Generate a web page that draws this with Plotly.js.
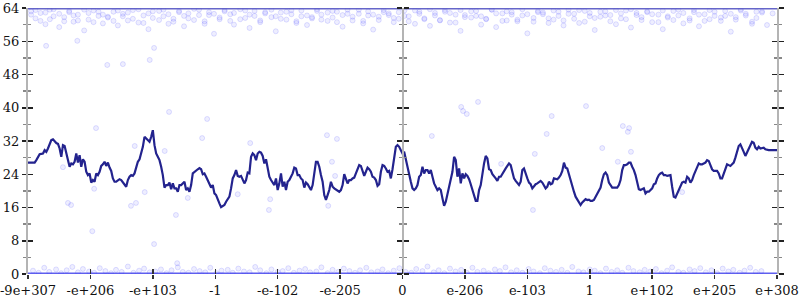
<!DOCTYPE html>
<html>
<head>
<meta charset="utf-8">
<script src="https://cdn.plot.ly/plotly-3.0.1.min.js"></script>
<style>html,body{margin:0;padding:0;background:#fff}#chart{width:800px;height:300px}</style>
</head>
<body>
<div id="chart"></div>
<script>
// ---- tick labels (13 positions, index 0..12) ----
const tickLabels = ["-9e+307","-e+206","-e+103","-1","-e-102","-e-205","0","e-206","e-103","1","e+102","e+205","e+308"];
const tickPos = [0,1,2,3,4,5,6,7,8,9,10,11,12];

// ---- running-average line (evenly sampled along the axis) ----
const meanY = [
 26.8,26.8,26.8,26.8,26.8,27.4,28.2,28.8,28.9,29.0,29.8,29.4,30.2,31.4,32.2,32.4,31.8,31.5,31.3,30.2,28.2,31.0,30.8,29.4,27.4,25.8,26.6,26.4,27.0,29.0,26.8,28.6,25.8,27.6,27.0,24.6,23.8,24.2,22.0,22.6,22.2,24.2,23.8,24.6,26.0,26.4,27.0,26.0,26.8,25.6,24.8,23.0,22.2,22.2,22.4,22.8,22.6,22.0,21.6,21.0,22.6,23.4,23.8,23.6,24.2,25.4,27.0,27.6,29.0,30.6,33.0,32.6,32.2,31.8,33.0,34.6,31.0,29.0,28.2,27.4,25.8,23.8,20.8,21.4,21.4,22.0,20.4,21.8,20.6,20.6,19.8,21.4,
 21.4,21.8,22.2,20.2,20.6,19.8,21.4,24.2,24.6,24.9,25.2,25.5,25.2,24.0,24.2,23.4,22.6,21.4,20.8,21.4,19.4,19.0,18.2,17.0,16.1,16.4,16.6,17.4,18.0,18.6,20.6,23.0,23.8,25.0,23.6,23.4,23.6,22.6,21.8,22.6,24.4,24.2,28.2,29.0,28.6,27.4,29.0,29.4,29.2,28.4,26.6,27.6,25.8,23.4,22.6,21.8,21.4,23.0,20.2,21.8,24.2,21.0,22.2,20.2,22.2,22.6,23.4,24.2,25.6,25.4,23.8,23.8,23.0,22.6,20.8,22.0,21.6,20.8,20.2,21.4,25.0,27.0,27.0,25.8,23.8,22.2,19.0,17.8,19.0,20.2,
 22.2,21.0,20.6,20.4,20.1,19.8,20.2,21.4,24.0,23.0,21.8,22.6,22.6,23.0,23.2,24.2,25.0,26.2,26.0,24.6,23.6,24.6,25.6,25.2,24.6,23.4,23.2,22.6,21.2,21.6,24.6,26.2,26.0,25.4,24.6,24.8,23.0,25.2,28.0,30.6,31.0,30.6,29.8,29.0,29.4,27.4,25.8,24.2,22.2,20.6,20.2,20.6,21.4,23.4,23.8,25.8,24.2,25.0,25.0,24.2,25.0,23.4,21.8,21.0,20.2,20.6,20.2,18.2,16.4,17.4,19.4,21.4,23.4,24.6,28.2,27.4,23.4,25.4,21.8,24.2,23.0,24.0,23.6,22.8,21.6,20.2,18.6,17.6,17.6,20.2,
 21.4,24.2,26.6,28.4,27.8,25.2,25.0,24.0,23.6,23.0,22.4,23.4,23.4,24.2,24.8,25.4,26.0,26.6,26.2,24.6,23.0,22.4,22.0,21.4,22.2,25.0,25.4,24.0,23.0,22.0,21.6,20.6,21.2,21.6,21.8,22.1,22.4,22.0,21.2,20.6,21.0,22.2,21.6,21.8,23.0,22.8,22.8,23.2,23.8,24.8,26.8,25.6,25.4,24.0,22.4,21.2,19.8,18.6,18.0,17.2,16.6,17.2,17.6,18.0,17.8,17.9,17.6,17.6,17.8,18.6,19.2,20.0,20.8,22.6,24.0,24.4,23.8,22.0,21.4,20.8,20.8,20.8,20.8,21.4,22.6,25.0,26.2,26.2,26.4,26.8,
 26.8,25.8,25.0,23.8,22.2,20.4,20.2,20.4,20.6,19.4,19.8,19.8,20.2,20.6,21.6,21.8,23.0,23.8,24.2,24.4,23.8,23.8,23.6,23.8,23.8,21.0,18.6,18.4,19.4,20.4,21.0,22.0,22.2,22.0,23.4,23.0,22.0,22.6,23.8,24.8,25.8,26.6,26.4,26.4,26.6,26.8,27.4,27.2,26.2,25.2,24.8,24.8,24.8,24.2,23.0,23.0,24.2,25.6,26.4,26.2,26.0,26.4,26.8,28.0,29.6,30.8,31.2,30.4,29.4,28.4,29.2,30.4,31.2,31.8,31.6,30.4,30.0,30.6,30.2,30.4,30.4,30.0,29.8,29.8,29.8,29.8,29.8,29.8,29.8
];
const meanX = meanY.map((_, i) => 12 * i / (meanY.length - 1));

// ---- individual samples: cluster near the top ----
const topX = [0.05,0.12,0.2,0.28,0.35,0.41,0.5,0.58,0.66,0.73,0.8,0.9,0.97,1.05,1.13,1.2,1.28,1.37,1.44,1.52,1.6,1.68,1.77,1.85,1.93,2.0,2.1,2.17,2.25,2.33,2.42,2.5,2.57,2.66,2.74,2.83,2.9,2.98,3.07,3.15,3.24,3.3,3.4,3.48,3.55,3.63,3.72,3.8,3.9,3.97,4.05,4.14,4.22,4.3,4.38,4.47,4.55,4.63,4.7,4.8,4.88,4.95,5.04,5.12,5.2,5.3,5.37,5.45,5.53,5.62,5.7,5.78,5.86,5.94,6.03,6.1,6.2,6.27,6.35,6.44,6.52,6.6,6.68,6.76,6.85,6.93,7.0,7.1,7.18,7.26,7.34,7.43,7.5,7.6,7.67,7.75,7.84,7.92,8.0,8.1,8.17,8.25,8.34,8.42,8.5,8.58,8.66,8.75,8.83,8.92,9.0,9.08,9.17,9.25,9.33,9.42,9.5,9.58,9.66,9.75,9.83,9.92,10.0,10.1,10.17,10.25,10.34,10.42,10.5,10.6,10.67,10.75,10.84,10.92,11.0,11.1,11.17,11.26,11.34,11.42,11.5,11.6,11.67,11.76,11.84,11.93];
const topY = [63.2,61.5,62.8,60.1,63.6,62.0,59.4,61.8,63.0,60.7,62.4,58.6,61.2,63.4,62.1,60.3,61.9,63.1,59.8,62.6,61.0,63.5,60.5,62.2,58.9,61.6,63.3,62.0,60.2,61.4,63.0,59.6,62.7,61.1,63.6,60.8,62.3,57.8,61.7,63.2,62.5,60.0,61.3,63.4,59.2,62.1,60.6,63.0,61.8,58.4,62.9,61.2,63.5,60.4,62.0,59.9,61.5,63.3,62.4,60.9,61.7,63.1,59.5,62.6,61.0,63.6,60.3,62.2,58.8,61.9,63.0,62.3,60.6,61.4,63.4,62.0,60.2,63.1,61.5,59.7,62.8,61.1,63.5,60.5,62.4,58.5,61.8,63.2,62.1,60.0,61.3,63.6,59.4,62.7,61.0,63.0,60.8,62.2,57.9,61.6,63.3,62.5,60.4,61.2,63.1,59.8,62.6,61.4,63.5,60.7,62.0,58.7,61.9,63.2,62.3,60.1,61.5,63.4,59.3,62.8,61.1,63.0,60.6,62.4,58.9,61.7,63.3,62.2,60.3,61.0,63.5,59.6,62.5,61.3,63.1,60.9,62.1,58.3,61.8,63.4,62.6,60.2,61.6,63.2,59.9,62.7];
const topY2 = [62.4,63.5,60.9,62.9,61.3,63.7,62.6,60.8,63.3,62.2,61.0,63.6,62.8,60.6,63.1,62.4,61.7,60.9,63.4,62.0,62.9,61.4,63.7,60.4,62.7,63.2,61.1,63.6,62.5,60.7,63.3,62.1,61.5,63.8,62.3,60.2,63.0,62.6,61.3,63.5,60.9,62.8,63.7,61.6,62.4,63.3,61.0,62.7,63.6,62.0,61.4,63.1,62.5,60.8,63.4,62.2,61.8,63.7,61.2,62.9,63.3,60.6,62.3,63.6,61.9,62.6,60.9,63.2,62.4,61.1,63.5,62.7,61.6,63.0,62.1,60.8,63.4,62.6,61.3,63.7,62.2,61.0,63.1,62.8,60.5,63.5,62.3,61.7,63.3,62.0,61.4,63.6,62.7,60.9,63.2,62.4,61.2,63.7,62.5,60.7,63.0,62.9,61.5,63.4,62.1,61.0,63.6,62.6,60.4,63.3,62.8,61.6,63.1,62.2,60.8,63.5,62.7,61.3,63.7,62.3,61.8,63.2,62.5,60.6,63.4,62.0,61.1,63.6,62.8,61.5,63.0,62.4,60.9,63.5,62.1,61.7,63.3,62.6,61.2,63.7,62.2,60.7,63.1,62.9];

// ---- individual samples: cluster near zero ----
const botX = [0.08,0.17,0.26,0.34,0.45,0.53,0.62,0.71,0.8,0.88,0.98,1.06,1.15,1.24,1.33,1.41,1.5,1.6,1.69,1.78,1.86,1.95,2.04,2.13,2.22,2.3,2.4,2.48,2.57,2.66,2.75,2.84,2.92,3.02,3.1,3.2,3.28,3.37,3.46,3.55,3.64,3.72,3.82,3.9,4.0,4.08,4.17,4.26,4.35,4.44,4.52,4.62,4.7,4.8,4.88,4.97,5.06,5.15,5.24,5.32,5.42,5.5,5.6,5.68,5.77,5.86,5.95,6.05,6.14,6.22,6.32,6.4,6.5,6.58,6.67,6.76,6.85,6.94,7.03,7.12,7.2,7.3,7.38,7.48,7.56,7.65,7.74,7.83,7.92,8.02,8.1,8.2,8.28,8.37,8.46,8.55,8.64,8.72,8.82,8.9,9.0,9.08,9.17,9.26,9.35,9.44,9.52,9.62,9.7,9.8,9.88,9.97,10.06,10.15,10.24,10.32,10.42,10.5,10.6,10.68,10.77,10.86,10.95,11.04,11.13,11.22,11.3,11.4,11.48,11.57,11.66,11.75,11.84,11.93];
const botY = [0.8,0.3,1.5,0.5,1.1,0.2,0.9,1.7,0.4,1.2,0.6,0.3,1.4,0.7,0.2,1.0,0.5,1.8,0.3,0.8,1.3,0.4,0.6,1.1,0.2,0.9,1.6,0.5,0.3,1.2,0.7,0.4,1.5,0.2,0.8,1.0,0.3,1.3,0.6,0.4,1.7,0.9,0.2,1.1,0.5,0.7,1.4,0.3,0.8,1.2,0.4,0.6,1.6,0.2,1.0,0.5,1.3,0.7,0.3,0.9,1.5,0.4,0.6,1.1,0.2,0.8,1.4,0.5,0.3,1.2,0.7,1.8,0.4,0.9,0.2,1.3,0.6,1.0,0.3,1.5,0.5,0.8,0.2,1.1,0.7,1.6,0.4,0.9,0.3,1.2,0.6,0.2,1.4,0.8,0.5,1.0,0.3,1.7,0.6,0.4,1.1,0.8,0.2,1.3,0.5,0.9,0.3,1.5,0.7,0.4,1.0,0.6,1.2,0.2,0.8,1.6,0.5,0.3,1.1,0.7,1.4,0.4,0.9,0.2,1.3,0.6,1.0,0.3,0.8,1.5,0.5,0.7];

// ---- sparse outliers in between ----
const midX = [0.29,0.79,1.27,1.52,1.95,2.02,2.26,1.09,1.71,2.19,2.79,2.87,3.56,4.79,4.95,4.87,4.92,0.56,0.64,0.69,1.03,1.06,1.65,1.73,1.87,2.37,2.02,2.56,2.39,3.36,3.88,3.86,4.81,6.94,6.97,7.03,7.21,6.47,8.31,8.39,8.94,8.12,7.58,8.09,9.53,9.63,9.61,9.20,9.66,9.45,10.48];
const midY = [54.9,56.1,50.3,50.5,51.5,54.4,39.0,35.1,30.8,29.6,32.7,37.3,31.5,33.4,32.5,27.0,23.6,25.7,17.1,16.6,10.3,20.5,16.4,17.1,19.7,14.2,7.2,18.3,2.6,19.2,18.0,15.4,16.4,40.2,39.2,38.5,41.4,33.2,33.7,38.0,40.4,28.9,26.5,15.4,35.6,35.1,34.2,30.3,29.4,27.0,19.7];

// dense rows of samples sitting exactly on the limits
const edgeX = [0, 12];
const edgeLow = [0, 0];
const edgeHigh = [64, 64];

function ptMarker() {
  return {size: 5, color: 'rgba(70,70,255,0.09)', line: {color: 'rgba(70,70,255,0.16)', width: 1}};
}

const traces = [
  {x: topX, y: topY, xaxis: 'x', yaxis: 'y2', type: 'scatter', mode: 'markers', marker: ptMarker(), hoverinfo: 'skip'},
  {x: topX, y: topY2, xaxis: 'x', yaxis: 'y2', type: 'scatter', mode: 'markers', marker: ptMarker(), hoverinfo: 'skip'},
  {x: botX, y: botY, xaxis: 'x', yaxis: 'y3', type: 'scatter', mode: 'markers', marker: ptMarker(), hoverinfo: 'skip'},
  {x: midX, y: midY, xaxis: 'x', yaxis: 'y4', type: 'scatter', mode: 'markers', marker: ptMarker(), hoverinfo: 'skip'},
  {x: edgeX, y: edgeLow, xaxis: 'x2', yaxis: 'y5', type: 'scatter', mode: 'lines', line: {color: 'rgba(55,55,235,0.8)', width: 3}, hoverinfo: 'skip'},
  {x: edgeX, y: edgeHigh, xaxis: 'x', yaxis: 'y6', type: 'scatter', mode: 'lines', line: {color: 'rgba(85,85,195,0.9)', width: 3}, hoverinfo: 'skip'},
  {x: meanX, y: meanY, xaxis: 'x', yaxis: 'y', type: 'scatter', mode: 'lines', line: {color: '#23238e', width: 2.2}, hoverinfo: 'skip'}
];

function tf() { return {family: 'DejaVu Serif, Liberation Serif, serif', size: 13, color: '#111'}; }
function minor(dir) { return {dtick: 4, ticklen: 3, tickcolor: '#888', ticks: dir}; }
function yax(extra) {
  return Object.assign({range: [0, 64], dtick: 8, showgrid: false, zeroline: false, fixedrange: true, tickwidth: 1.5, tickcolor: '#222', showticklabels: false}, extra);
}

const layout = {
  width: 800, height: 300,
  margin: {l: 28, r: 23, t: 8, b: 26},
  paper_bgcolor: '#fff', plot_bgcolor: '#fff',
  showlegend: false,
  font: {family: 'DejaVu Serif, Liberation Serif, serif', size: 13, color: '#111'},
  xaxis: {range: [0, 12], tickvals: tickPos, ticktext: tickLabels, ticks: 'outside', ticklen: 4, tickwidth: 1.5, tickcolor: '#333', showgrid: false, zeroline: false, showline: false, tickfont: tf(), ticklabeloverflow: 'allow'},
  xaxis2: {range: [0, 12], overlaying: 'x', anchor: 'y', side: 'bottom', tickvals: tickPos, ticks: 'inside', ticklen: 5, tickwidth: 1.5, tickcolor: '#333', showticklabels: false, showgrid: false, zeroline: false, showline: false},
  yaxis: yax({ticks: 'outside', ticklen: 4, showticklabels: true, tickfont: tf(), showline: true, linecolor: '#b4b4b4', linewidth: 2, minor: minor('outside'), ticklabeloverflow: 'allow'}),
  yaxis2: yax({overlaying: 'y', anchor: 'x', side: 'left', ticks: 'inside', ticklen: 5, showline: false, minor: minor('inside')}),
  yaxis3: yax({overlaying: 'y', anchor: 'free', position: 0.5, side: 'left', ticks: 'outside', ticklen: 5, showline: true, linecolor: '#b4b4b4', linewidth: 2, minor: minor('outside')}),
  yaxis4: yax({overlaying: 'y', anchor: 'free', position: 0.5, side: 'right', ticks: 'outside', ticklen: 5, showline: false, minor: minor('outside')}),
  yaxis5: yax({overlaying: 'y', anchor: 'x', side: 'right', ticks: 'outside', ticklen: 5, showline: true, linecolor: '#b4b4b4', linewidth: 2, minor: minor('outside')}),
  yaxis6: yax({overlaying: 'y', anchor: 'x', side: 'right', ticks: 'inside', ticklen: 5, showline: false, minor: minor('inside')})
};

Plotly.newPlot('chart', traces, layout, {staticPlot: true, displayModeBar: false});
</script>
</body>
</html>
